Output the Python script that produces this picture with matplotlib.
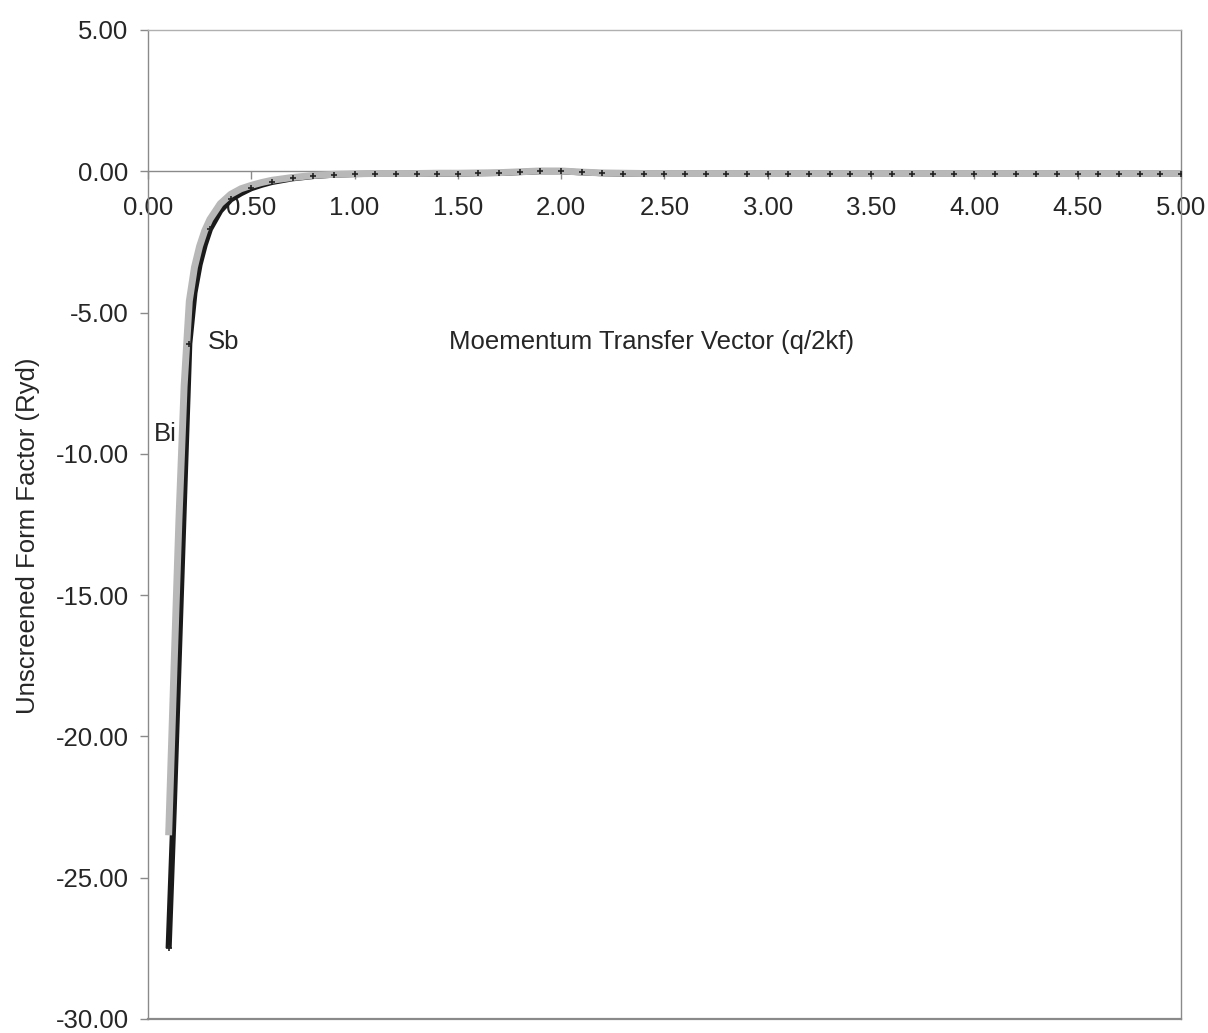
import matplotlib
matplotlib.use("Agg")
import matplotlib.pyplot as plt

plt.rcParams['font.family'] = ['Liberation Sans', 'DejaVu Sans']

# Momentum transfer q/2kf
q = [0.100, 0.125, 0.150, 0.175, 0.200, 0.225, 0.250, 0.275, 0.300,
     0.35, 0.40, 0.45, 0.50, 0.55, 0.60, 0.70, 0.80, 0.90, 1.00,
     1.10, 1.20, 1.30, 1.40, 1.50, 1.60, 1.70, 1.80, 1.90, 2.00,
     2.10, 2.20, 2.30, 2.40, 2.50, 2.60, 2.70, 2.80, 2.90, 3.00,
     3.10, 3.20, 3.30, 3.40, 3.50, 3.60, 3.70, 3.80, 3.90, 4.00,
     4.10, 4.20, 4.30, 4.40, 4.50, 4.60, 4.70, 4.80, 4.90, 5.00]

# Unscreened form factor (Ryd), antimony
sb = [-27.5, -22.5, -17.0, -11.5, -6.1, -4.3, -3.3, -2.6, -2.05,
      -1.4, -1.0, -0.78, -0.60, -0.48, -0.38, -0.25, -0.17, -0.12, -0.10,
      -0.09, -0.09, -0.08, -0.08, -0.08, -0.07, -0.06, -0.03, 0.00, 0.00,
      -0.04, -0.07, -0.08, -0.08, -0.08, -0.08, -0.08, -0.08, -0.08, -0.08,
      -0.08, -0.08, -0.08, -0.08, -0.08, -0.08, -0.08, -0.08, -0.08, -0.08,
      -0.08, -0.08, -0.08, -0.08, -0.08, -0.08, -0.08, -0.08, -0.08, -0.08]

# Unscreened form factor (Ryd), bismuth
bi = [-23.5, -17.8, -12.3, -7.6, -4.6, -3.4, -2.65, -2.1, -1.7,
      -1.15, -0.82, -0.62, -0.50, -0.40, -0.32, -0.22, -0.15, -0.11, -0.09,
      -0.08, -0.08, -0.08, -0.07, -0.07, -0.06, -0.05, -0.02, 0.01, 0.01,
      -0.03, -0.06, -0.07, -0.08, -0.08, -0.08, -0.08, -0.08, -0.08, -0.08,
      -0.08, -0.08, -0.08, -0.08, -0.08, -0.08, -0.08, -0.08, -0.08, -0.08,
      -0.08, -0.08, -0.08, -0.08, -0.08, -0.08, -0.08, -0.08, -0.08, -0.08]

x_ticks = [0.0, 0.5, 1.0, 1.5, 2.0, 2.5, 3.0, 3.5, 4.0, 4.5, 5.0]
y_ticks = [5, 0, -5, -10, -15, -20, -25, -30]

# markers only on the 0.1-spaced samples
mark_idx = [i for i, v in enumerate(q) if abs(round(v * 10) - v * 10) < 1e-6]

fig = plt.figure(figsize=(12.08, 10.33), dpi=100)
ax = fig.add_axes([0.1225, 0.0136, 0.855, 0.9574])

text_col = '#262626'
frame_col = '#8a8a8a'
fs = 18.5

ax.plot(q, sb, color='#1a1a1a', lw=4.4, zorder=3, solid_capstyle='butt')
ax.plot(q, bi, color='#b8b8b8', lw=5.0, zorder=4, solid_capstyle='butt')
ax.plot([q[i] for i in mark_idx], [sb[i] for i in mark_idx], ls='none',
        marker='+', ms=5, mew=1.2, color='#222222', zorder=5)

ax.set_xlim(0, 5)
ax.set_ylim(-30, 5)

# x axis runs along y = 0, the frame closes the plot area
ax.spines['bottom'].set_position(('data', 0))
for s in ['left', 'right', 'top', 'bottom']:
    ax.spines[s].set_color(frame_col)
    ax.spines[s].set_linewidth(1.0)
ax.spines['top'].set_color('#b0b0b0')
ax.axhline(-30, color=frame_col, lw=1.6, clip_on=False, zorder=6)

ax.set_xticks(x_ticks)
ax.set_xticklabels([f"{v:.2f}" for v in x_ticks])
ax.set_yticks(y_ticks)
ax.set_yticklabels([f"{v:.2f}" for v in y_ticks])
ax.tick_params(axis='both', labelsize=fs, colors=text_col, length=6,
               width=1.0, direction='out')
ax.tick_params(axis='x', pad=12, color=frame_col)
ax.tick_params(axis='y', pad=8, color=frame_col)

ax.set_ylabel('Unscreened Form Factor (Ryd)', fontsize=fs, color=text_col)
ax.yaxis.set_label_coords(-0.1045, 0.489)

ax.text(2.44, -6.05, 'Moementum Transfer Vector (q/2kf)', fontsize=fs,
        color=text_col, ha='center', va='center')
ax.text(0.29, -6.05, 'Sb', fontsize=fs, color=text_col, ha='left', va='center')
ax.text(0.03, -9.3, 'Bi', fontsize=fs, color=text_col, ha='left', va='center')

fig.savefig('out.png', dpi=100)
